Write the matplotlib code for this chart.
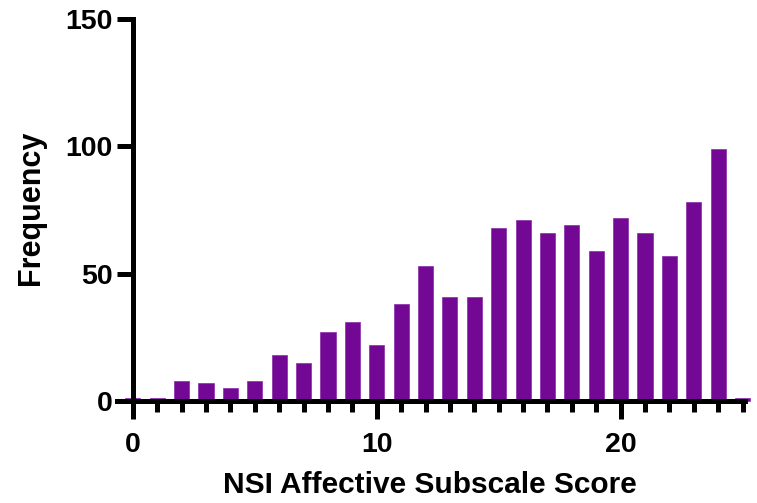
import matplotlib
matplotlib.use("Agg")
import matplotlib.pyplot as plt
from matplotlib.ticker import MultipleLocator

scores = list(range(0, 26))
frequency = [1, 1, 8, 7, 5, 8, 18, 15, 27, 31, 22, 38, 53, 41, 41,
             68, 71, 66, 69, 59, 72, 66, 57, 78, 99, 1]
x_major = [0, 10, 20]
y_major = [0, 50, 100, 150]

plt.rcParams['font.family'] = ['Liberation Sans', 'DejaVu Sans']
plt.rcParams['font.weight'] = 'bold'

fig = plt.figure(figsize=(7.57, 5.03), dpi=100)
ax = fig.add_axes([0.1546, 0.2028, 0.9842 - 0.1546, 0.9622 - 0.2028])

ax.bar(scores, frequency, width=0.62, color='#730894', edgecolor='#8a2aa8',
       linewidth=0.5, clip_on=False, zorder=2)

ax.set_xlim(-0.65, 25.1)
ax.set_ylim(0, 150)

for s in ['top', 'right']:
    ax.spines[s].set_visible(False)
ax.spines['left'].set_position(('data', 0))
ax.spines['left'].set_bounds(0, 150)
for s in ['left', 'bottom']:
    ax.spines[s].set_linewidth(3.6)
    ax.spines[s].set_zorder(3)
    ax.spines[s].set_capstyle('projecting')

ax.set_xticks(x_major)
ax.xaxis.set_minor_locator(MultipleLocator(1))
ax.set_yticks(y_major)
ax.tick_params(axis='y', which='major', length=11.5, width=3.6,
               labelsize=20.5, pad=3)
ax.tick_params(axis='x', which='major', length=13, width=3.6,
               labelsize=20.5, pad=9)
ax.tick_params(axis='x', which='minor', length=8, width=3.6)
for lbl in ax.get_xticklabels() + ax.get_yticklabels():
    lbl.set_fontweight('bold')

ax.set_xlabel('NSI Affective Subscale Score', fontsize=21.5, fontweight='bold')
ax.set_ylabel('Frequency', fontsize=22, fontweight='bold')
ax.xaxis.set_label_coords(0.498, -0.183)
ax.yaxis.set_label_coords(-0.113, 0.505)

fig.savefig('out.png', dpi=100)
